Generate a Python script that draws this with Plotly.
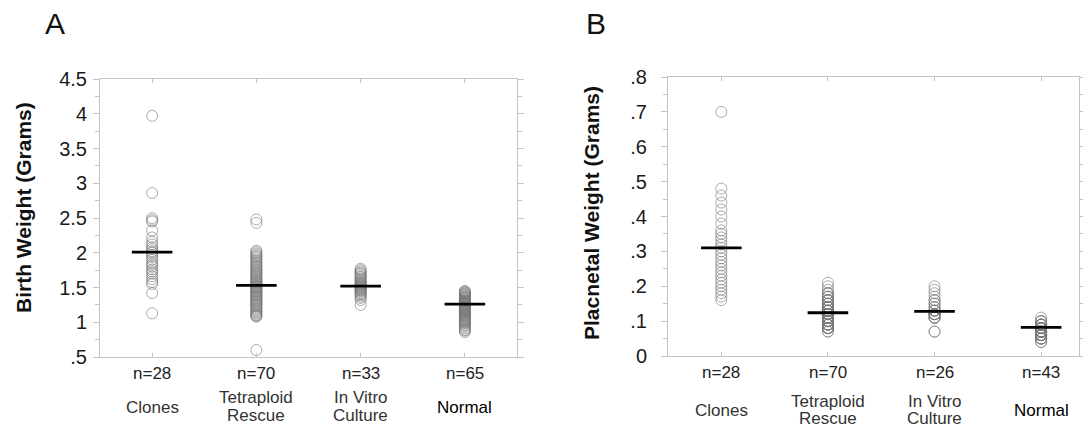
import plotly.graph_objects as go

categories = ["Clones", "Tetraploid Rescue", "In Vitro Culture", "Normal"]
cat_lines = [["Clones"], ["Tetraploid", "Rescue"], ["In Vitro", "Culture"], ["Normal"]]

# Panel A: birth weight (grams)
birth_clones = [3.97, 2.86, 2.50, 2.47, 2.45, 2.32, 2.22, 2.16, 2.12, 2.08, 2.05, 2.02, 2.00, 1.97,
                1.94, 1.90, 1.86, 1.83, 1.80, 1.76, 1.73, 1.70, 1.66, 1.62, 1.58, 1.55, 1.42, 1.13]
birth_tetra = [2.48, 2.43, 2.03, 2.01, 1.99, 1.97, 1.95, 1.94, 1.92, 1.90,
               1.88, 1.86, 1.85, 1.83, 1.81, 1.80, 1.78, 1.76, 1.75, 1.73,
               1.72, 1.70, 1.69, 1.67, 1.66, 1.64, 1.63, 1.61, 1.60, 1.58,
               1.57, 1.56, 1.55, 1.53, 1.52, 1.51, 1.50, 1.49, 1.48, 1.46,
               1.45, 1.44, 1.43, 1.42, 1.40, 1.39, 1.38, 1.37, 1.35, 1.34,
               1.33, 1.31, 1.30, 1.29, 1.27, 1.26, 1.25, 1.23, 1.22, 1.20,
               1.19, 1.17, 1.16, 1.14, 1.13, 1.11, 1.10, 1.09, 1.08, 0.60]
birth_vitro = [1.77, 1.75, 1.73, 1.71, 1.70, 1.68, 1.66, 1.65, 1.63, 1.62,
               1.60, 1.59, 1.57, 1.56, 1.55, 1.54, 1.53, 1.52, 1.51, 1.50,
               1.49, 1.48, 1.47, 1.46, 1.45, 1.44, 1.42, 1.41, 1.39, 1.37,
               1.35, 1.32, 1.25]
birth_normal = [1.45, 1.44, 1.43, 1.42, 1.41, 1.40, 1.39, 1.38, 1.37, 1.36,
                1.35, 1.35, 1.34, 1.33, 1.32, 1.31, 1.31, 1.30, 1.29, 1.28,
                1.28, 1.27, 1.26, 1.26, 1.25, 1.24, 1.24, 1.23, 1.22, 1.22,
                1.21, 1.20, 1.20, 1.19, 1.18, 1.17, 1.17, 1.16, 1.15, 1.14,
                1.13, 1.12, 1.11, 1.10, 1.09, 1.08, 1.07, 1.06, 1.05, 1.04,
                1.03, 1.02, 1.01, 1.00, 0.99, 0.98, 0.96, 0.95, 0.93, 0.91,
                0.89, 0.88, 0.86, 1.30, 1.18]
birth_means = [2.01, 1.53, 1.52, 1.26]
birth_n = ["n=28", "n=70", "n=33", "n=65"]
birth_ticks = [0.5, 1, 1.5, 2, 2.5, 3, 3.5, 4, 4.5]
birth_ticktext = [".5", "1", "1.5", "2", "2.5", "3", "3.5", "4", "4.5"]

# Panel B: placental weight (grams)
plac_clones = [0.70, 0.48, 0.46, 0.44, 0.42, 0.40, 0.38, 0.36, 0.35, 0.34,
               0.33, 0.32, 0.31, 0.30, 0.29, 0.28, 0.27, 0.26, 0.25, 0.24,
               0.23, 0.22, 0.21, 0.20, 0.19, 0.18, 0.17, 0.16]
plac_tetra = [0.21, 0.20, 0.19, 0.18, 0.18, 0.18, 0.17, 0.17, 0.17, 0.16,
              0.16, 0.16, 0.16, 0.15, 0.15, 0.15, 0.15, 0.14, 0.14, 0.14,
              0.14, 0.14, 0.13, 0.13, 0.13, 0.13, 0.13, 0.13, 0.12, 0.12,
              0.12, 0.12, 0.12, 0.12, 0.12, 0.12, 0.11, 0.11, 0.11, 0.11,
              0.11, 0.11, 0.11, 0.11, 0.10, 0.10, 0.10, 0.10, 0.10, 0.10,
              0.10, 0.10, 0.09, 0.09, 0.09, 0.09, 0.09, 0.09, 0.09, 0.08,
              0.08, 0.08, 0.08, 0.08, 0.08, 0.07, 0.07, 0.12, 0.13, 0.14]
plac_vitro = [0.20, 0.19, 0.18, 0.17, 0.16, 0.16, 0.15, 0.15, 0.14, 0.14,
              0.13, 0.13, 0.13, 0.12, 0.12, 0.12, 0.12, 0.12, 0.11, 0.11,
              0.11, 0.11, 0.12, 0.13, 0.07, 0.07]
plac_normal = [0.11, 0.10, 0.10, 0.10, 0.09, 0.09, 0.09, 0.09, 0.09, 0.09,
               0.08, 0.08, 0.08, 0.08, 0.08, 0.08, 0.08, 0.08, 0.08, 0.08,
               0.07, 0.07, 0.07, 0.07, 0.07, 0.07, 0.07, 0.07,
               0.06, 0.06, 0.06, 0.06, 0.06, 0.06, 0.06, 0.06,
               0.05, 0.05, 0.05, 0.05, 0.05, 0.04, 0.04]
plac_means = [0.31, 0.124, 0.128, 0.082]
plac_n = ["n=28", "n=70", "n=26", "n=43"]
plac_ticks = [0, 0.1, 0.2, 0.3, 0.4, 0.5, 0.6, 0.7, 0.8]
plac_ticktext = ["0", ".1", ".2", ".3", ".4", ".5", ".6", ".7", ".8"]

FONT = "Liberation Sans, Arial, Helvetica, sans-serif"
PT_COLOR = "rgba(120,120,120,0.62)"
AX_COLOR = "#c4c4c4"

fig = go.Figure()

panels = [
    ("x", "y", [birth_clones, birth_tetra, birth_vitro, birth_normal], birth_means),
    ("x2", "y2", [plac_clones, plac_tetra, plac_vitro, plac_normal], plac_means),
]
for xa, ya, groups, means in panels:
    for cat, vals in zip(categories, groups):
        fig.add_trace(go.Scatter(
            x=[cat] * len(vals), y=vals, mode="markers", xaxis=xa, yaxis=ya,
            marker=dict(symbol="circle-open", size=11, color=PT_COLOR, line=dict(width=1)),
            showlegend=False, hoverinfo="y", cliponaxis=False))
    fig.add_trace(go.Scatter(
        x=categories, y=means, mode="markers", xaxis=xa, yaxis=ya,
        marker=dict(symbol="line-ew", size=29, color="black", line=dict(width=2.8, color="black")),
        showlegend=False, hoverinfo="y", cliponaxis=False))

xcommon = dict(type="category", categoryorder="array", categoryarray=categories,
               showline=True, linecolor=AX_COLOR, linewidth=1, mirror="ticks",
               ticks="inside", ticklen=4, tickcolor=AX_COLOR, showticklabels=False,
               showgrid=False, zeroline=False, fixedrange=True, automargin=False)
ycommon = dict(showline=True, linecolor=AX_COLOR, linewidth=1, mirror="ticks",
               ticks="outside", ticklen=6, tickcolor=AX_COLOR, showgrid=False, zeroline=False,
               tickfont=dict(family=FONT, size=20, color="#1a1a1a"), fixedrange=True,
               automargin=False)

fig.update_layout(
    width=1083, height=427, autosize=False,
    margin=dict(l=0, r=0, t=0, b=0, pad=0),
    paper_bgcolor="white", plot_bgcolor="white",
    font=dict(family=FONT, color="#1a1a1a"),
    xaxis=dict(domain=[100 / 1083, 517 / 1083], range=[-0.5, 3.5], anchor="y", **xcommon),
    yaxis=dict(domain=[1 - 357 / 427, 1 - 79 / 427], range=[0.5, 4.5], anchor="x",
               tickvals=birth_ticks, ticktext=birth_ticktext, ticklabelstandoff=2,
               minor=dict(dtick=0.25, ticks="outside", ticklen=4, tickcolor=AX_COLOR),
               **ycommon),
    xaxis2=dict(domain=[668 / 1083, 1079 / 1083], range=[-0.5, 3.355], anchor="y2", **xcommon),
    yaxis2=dict(domain=[1 - 356 / 427, 1 - 77 / 427], range=[0, 0.8], anchor="x2",
                tickvals=plac_ticks, ticktext=plac_ticktext, ticklabelstandoff=10,
                minor=dict(dtick=0.05, ticks="outside", ticklen=4, tickcolor=AX_COLOR),
                **ycommon),
)

ann = []
# Panel letters
ann.append(dict(text="A", x=43 / 1083, y=1 - 24 / 427, xref="paper", yref="paper",
                xanchor="left", yanchor="middle", showarrow=False,
                font=dict(family=FONT, size=30, color="#111")))
ann.append(dict(text="B", x=584 / 1083, y=1 - 24 / 427, xref="paper", yref="paper",
                xanchor="left", yanchor="middle", showarrow=False,
                font=dict(family=FONT, size=30, color="#111")))
# Y titles
ann.append(dict(text="<b>Birth Weight (Grams)</b>", x=23 / 1083, y=1 - 208 / 427,
                xref="paper", yref="paper", textangle=-90, showarrow=False,
                xanchor="center", yanchor="middle",
                font=dict(family=FONT, size=21, color="#111")))
ann.append(dict(text="<b>Placnetal Weight (Grams)</b>", x=591 / 1083, y=1 - 213 / 427,
                xref="paper", yref="paper", textangle=-90, showarrow=False,
                xanchor="center", yanchor="middle",
                font=dict(family=FONT, size=21, color="#111")))

# x labels
label_specs = [
    ("x", birth_n, 373, {1: [407], 2: [397, 415]}),
    ("x2", plac_n, 372, {1: [410], 2: [401, 418]}),
]
for xa, ns, ny, lpos in label_specs:
    for cat, n, lines in zip(categories, ns, cat_lines):
        ann.append(dict(text=n, x=cat, xref=xa, y=1 - ny / 427, yref="paper",
                        showarrow=False, xanchor="center", yanchor="middle",
                        font=dict(family=FONT, size=17, color="#222")))
        for line, ly in zip(lines, lpos[len(lines)]):
            is_normal = cat == "Normal"
            ann.append(dict(text=line, x=cat, xref=xa, y=1 - ly / 427, yref="paper",
                            showarrow=False, xanchor="center", yanchor="middle",
                            font=dict(family=FONT, size=17,
                                      color="#000" if is_normal else "#333")))

fig.update_layout(annotations=ann)
fig.write_html("out.html", config={"displayModeBar": False, "staticPlot": True},
               post_script="document.body.style.margin='0px';document.body.style.padding='0px';document.body.style.overflow='hidden';")
